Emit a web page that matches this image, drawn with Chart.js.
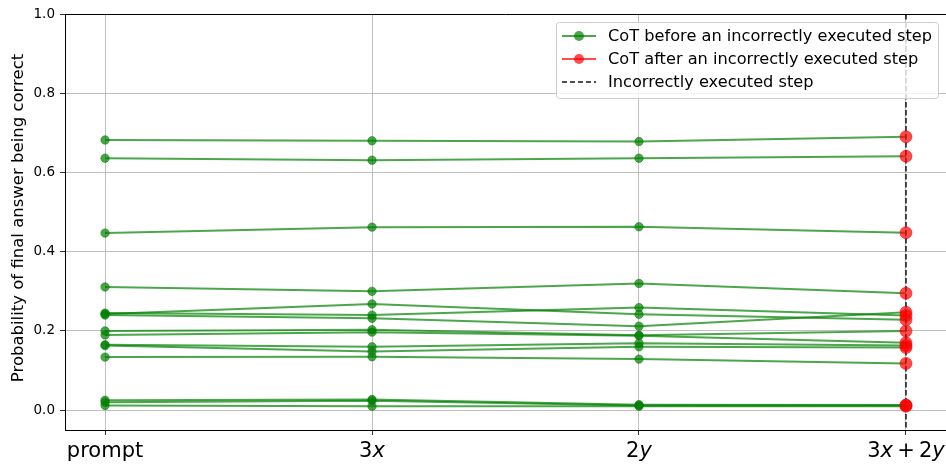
<!DOCTYPE html>
<html>
<head>
<meta charset="utf-8">
<script src="https://cdn.jsdelivr.net/npm/chart.js@4/dist/chart.umd.min.js"></script>
<style>
html, body { margin: 0; padding: 0; background: #fff; }
#wrap { width: 946px; height: 466px; }
</style>
</head>
<body>
<div id="wrap"><canvas id="chart" width="946" height="466"></canvas></div>
<script>
// Data
const stepLabels = ['prompt', '3x', '2y', '3x + 2y'];
const stepPositions = [0, 1, 2, 3];
const yTicks = [0.0, 0.2, 0.4, 0.6, 0.8, 1.0];
const errorStep = 3;

const run01 = [0.682, 0.680, 0.678, 0.690];
const run02 = [0.636, 0.631, 0.636, 0.641];
const run03 = [0.447, 0.462, 0.463, 0.448];
const run04 = [0.311, 0.300, 0.320, 0.295];
const run05 = [0.243, 0.268, 0.242, 0.228];
const run06 = [0.245, 0.240, 0.259, 0.239];
const run07 = [0.240, 0.232, 0.212, 0.247];
const run08 = [0.200, 0.203, 0.189, 0.200];
const run09 = [0.190, 0.197, 0.188, 0.170];
const run10 = [0.165, 0.160, 0.169, 0.163];
const run11 = [0.163, 0.148, 0.160, 0.158];
const run12 = [0.134, 0.135, 0.129, 0.118];
const run13 = [0.025, 0.027, 0.014, 0.013];
const run14 = [0.020, 0.024, 0.012, 0.012];
const run15 = [0.012, 0.010, 0.010, 0.010];
const runs = [run01, run02, run03, run04, run05, run06, run07, run08,
              run09, run10, run11, run12, run13, run14, run15];

const legendLabels = [
    'CoT before an incorrectly executed step',
    'CoT after an incorrectly executed step',
    'Incorrectly executed step'
];

// Styles
const green = 'rgba(0, 128, 0, 0.7)';
const red = 'rgba(255, 0, 0, 0.7)';
const dashColor = 'rgba(0, 0, 0, 0.7)';
const font = '"DejaVu Sans", sans-serif';

const datasets = runs.map(run => ({
    data: run.map((v, i) => ({ x: stepPositions[i], y: v })),
    borderColor: green,
    borderWidth: 2,
    pointBackgroundColor: run.map((v, i) => i === errorStep ? red : green),
    pointBorderColor: run.map((v, i) => i === errorStep ? red : green),
    pointBorderWidth: 0.8,
    pointRadius: run.map((v, i) => i === errorStep ? 6 : 4.2),
    tension: 0,
    fill: false
}));

function drawMarker(ctx, x, y, r, color) {
    ctx.beginPath();
    ctx.arc(x, y, r, 0, Math.PI * 2);
    ctx.fillStyle = color;
    ctx.fill();
}

// Custom drawing: dashed step line, top spine, math tick labels, y title, legend
const decorations = {
    id: 'decorations',
    beforeDatasetsDraw(chart) {
        const { ctx, chartArea, scales } = chart;
        const x = scales.x.getPixelForValue(stepPositions[errorStep]);
        ctx.save();
        ctx.strokeStyle = dashColor;
        ctx.lineWidth = 2;
        ctx.setLineDash([5.5, 2.5]);
        ctx.beginPath();
        ctx.moveTo(x, chartArea.top);
        ctx.lineTo(x, chartArea.bottom);
        ctx.stroke();
        ctx.restore();
    },
    afterDraw(chart) {
        const { ctx, chartArea, scales } = chart;
        ctx.save();

        // top spine
        ctx.strokeStyle = '#000';
        ctx.lineWidth = 1;
        ctx.beginPath();
        ctx.moveTo(chartArea.left, chartArea.top + 0.5);
        ctx.lineTo(chartArea.right, chartArea.top + 0.5);
        ctx.stroke();

        // x tick labels with italic variables
        ctx.fillStyle = '#000';
        ctx.textBaseline = 'alphabetic';
        ctx.textAlign = 'left';
        const size = 21;
        const gap = size * 0.2;
        stepLabels.forEach((label, i) => {
            const parts = label === 'prompt' ? [[label, false]]
                : label.replace(/ /g, '').split('').map(ch => [ch, /[a-z]/.test(ch)]);
            const widths = parts.map(([t, it]) => {
                ctx.font = (it ? 'italic ' : '') + size + 'px ' + font;
                return ctx.measureText(t).width + (t === '+' ? 2 * gap : 0);
            });
            const total = widths.reduce((a, b) => a + b, 0);
            let x = scales.x.getPixelForValue(stepPositions[i]) - total / 2;
            parts.forEach(([t, it], k) => {
                ctx.font = (it ? 'italic ' : '') + size + 'px ' + font;
                ctx.fillText(t, x + (t === '+' ? gap : 0), 457);
                x += widths[k];
            });
        });

        // y axis title
        ctx.save();
        ctx.translate(19, (chartArea.top + chartArea.bottom) / 2 - 4);
        ctx.rotate(-Math.PI / 2);
        ctx.font = '16.5px ' + font;
        ctx.textAlign = 'center';
        ctx.textBaseline = 'middle';
        ctx.fillText('Probability of final answer being correct', 0, 0);
        ctx.restore();

        // legend
        const lx = 556, ly = 22, lw = 382, lh = 76;
        ctx.fillStyle = 'rgba(255, 255, 255, 0.8)';
        ctx.strokeStyle = '#cccccc';
        ctx.lineWidth = 1;
        ctx.beginPath();
        ctx.roundRect(lx + 0.5, ly + 0.5, lw, lh, 3);
        ctx.fill();
        ctx.stroke();

        const rows = [36, 59, 82];
        ctx.font = '16.2px ' + font;
        ctx.textBaseline = 'middle';
        ctx.textAlign = 'left';
        rows.forEach((ry, i) => {
            ctx.lineWidth = 2;
            if (i < 2) {
                const c = i === 0 ? green : red;
                ctx.strokeStyle = c;
                ctx.setLineDash([]);
                ctx.beginPath();
                ctx.moveTo(562, ry);
                ctx.lineTo(596, ry);
                ctx.stroke();
                drawMarker(ctx, 579, ry, 5, c);
            } else {
                ctx.strokeStyle = dashColor;
                ctx.setLineDash([5, 3]);
                ctx.beginPath();
                ctx.moveTo(562, ry);
                ctx.lineTo(596, ry);
                ctx.stroke();
                ctx.setLineDash([]);
            }
            ctx.fillStyle = '#000';
            ctx.fillText(legendLabels[i], 608, ry + 1);
        });

        ctx.restore();
    }
};

const ctx = document.getElementById('chart').getContext('2d');

new Chart(ctx, {
    type: 'line',
    data: { datasets: datasets },
    options: {
        responsive: false,
        animation: false,
        layout: { autoPadding: false, padding: { top: 14, right: 0, left: 0, bottom: 0 } },
        plugins: {
            legend: { display: false },
            tooltip: { enabled: false }
        },
        scales: {
            x: {
                type: 'linear',
                min: -0.15,
                max: 3.15,
                afterBuildTicks: scale => {
                    scale.ticks = stepPositions.map(v => ({ value: v }));
                },
                afterFit: scale => { scale.height = 36; },
                // labels are painted by the plugin; empty here so no side padding is reserved
                ticks: { callback: () => '' },
                grid: { color: '#b0b0b0', lineWidth: 0.8, tickColor: '#000', tickLength: 5 },
                border: { display: true, color: '#000', width: 1 }
            },
            y: {
                type: 'linear',
                min: -0.05,
                max: 1.0,
                afterBuildTicks: scale => {
                    scale.ticks = yTicks.map(v => ({ value: v }));
                },
                afterFit: scale => { scale.width = 65; },
                ticks: {
                    color: '#000',
                    padding: 5,
                    font: { size: 13.5, family: font },
                    callback: v => v.toFixed(1)
                },
                grid: { color: '#b0b0b0', lineWidth: 0.8, tickColor: '#000', tickLength: 5 },
                border: { display: true, color: '#000', width: 1 }
            }
        }
    },
    plugins: [decorations]
});
</script>
</body>
</html>
